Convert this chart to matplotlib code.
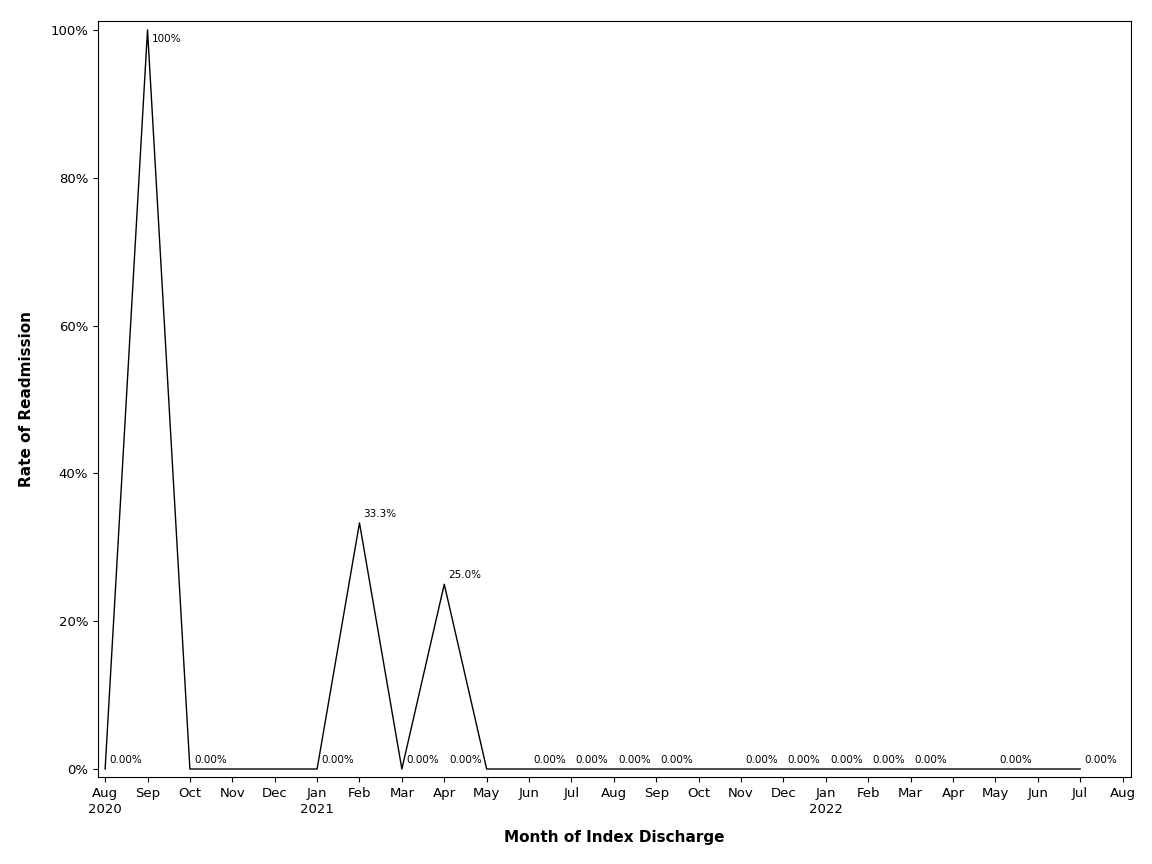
import matplotlib.pyplot as plt

months = ['Aug\n2020', 'Sep', 'Oct', 'Nov', 'Dec', 'Jan\n2021', 'Feb', 'Mar', 'Apr', 'May', 'Jun', 'Jul',
          'Aug', 'Sep', 'Oct', 'Nov', 'Dec', 'Jan\n2022', 'Feb', 'Mar', 'Apr', 'May', 'Jun', 'Jul', 'Aug']
# month index (0 = Aug 2020) of each observed point
point_month = [0, 1, 2, 5, 6, 7, 8, 9, 10, 11, 12, 13, 15, 16, 17, 18, 19, 21, 23]
rate = [0, 100, 0, 0, 33.3, 0, 25.0, 0, 0, 0, 0, 0, 0, 0, 0, 0, 0, 0, 0]
labels = ['0.00%', '100%', '0.00%', '0.00%', '33.3%', '0.00%', '25.0%', '0.00%', '0.00%', '0.00%',
          '0.00%', '0.00%', '0.00%', '0.00%', '0.00%', '0.00%', '0.00%', '0.00%', '0.00%']

fig = plt.figure(figsize=(11.52, 8.64), dpi=100)
ax = fig.add_axes([0.085, 0.1007, 0.8968, 0.875])
ax.plot(point_month, rate, color='black', lw=1)

for m, r, t in zip(point_month, rate, labels):
    if r == 100:
        ax.annotate(t, (m, r), xytext=(3, -3), textcoords='offset points', fontsize=7.5, va='top')
    elif m == 9:
        ax.annotate(t, (m, r), xytext=(-3, 3), textcoords='offset points', fontsize=7.5, ha='right', va='bottom')
    else:
        ax.annotate(t, (m, r), xytext=(3, 3), textcoords='offset points', fontsize=7.5, va='bottom')

ax.set_xlim(-0.17, 24.2)
ax.set_ylim(-1.08, 101.2)
ax.set_xticks(range(len(months)))
ax.set_xticklabels(months, fontsize=9.5, linespacing=1.3)
ax.set_yticks([0, 20, 40, 60, 80, 100])
ax.set_yticklabels(['0%', '20%', '40%', '60%', '80%', '100%'], fontsize=9.5)
ax.set_xlabel('Month of Index Discharge', fontsize=11, fontweight='bold', labelpad=10)
ax.set_ylabel('Rate of Readmission', fontsize=11, fontweight='bold', labelpad=12)

fig.savefig('out.png', dpi=100)
